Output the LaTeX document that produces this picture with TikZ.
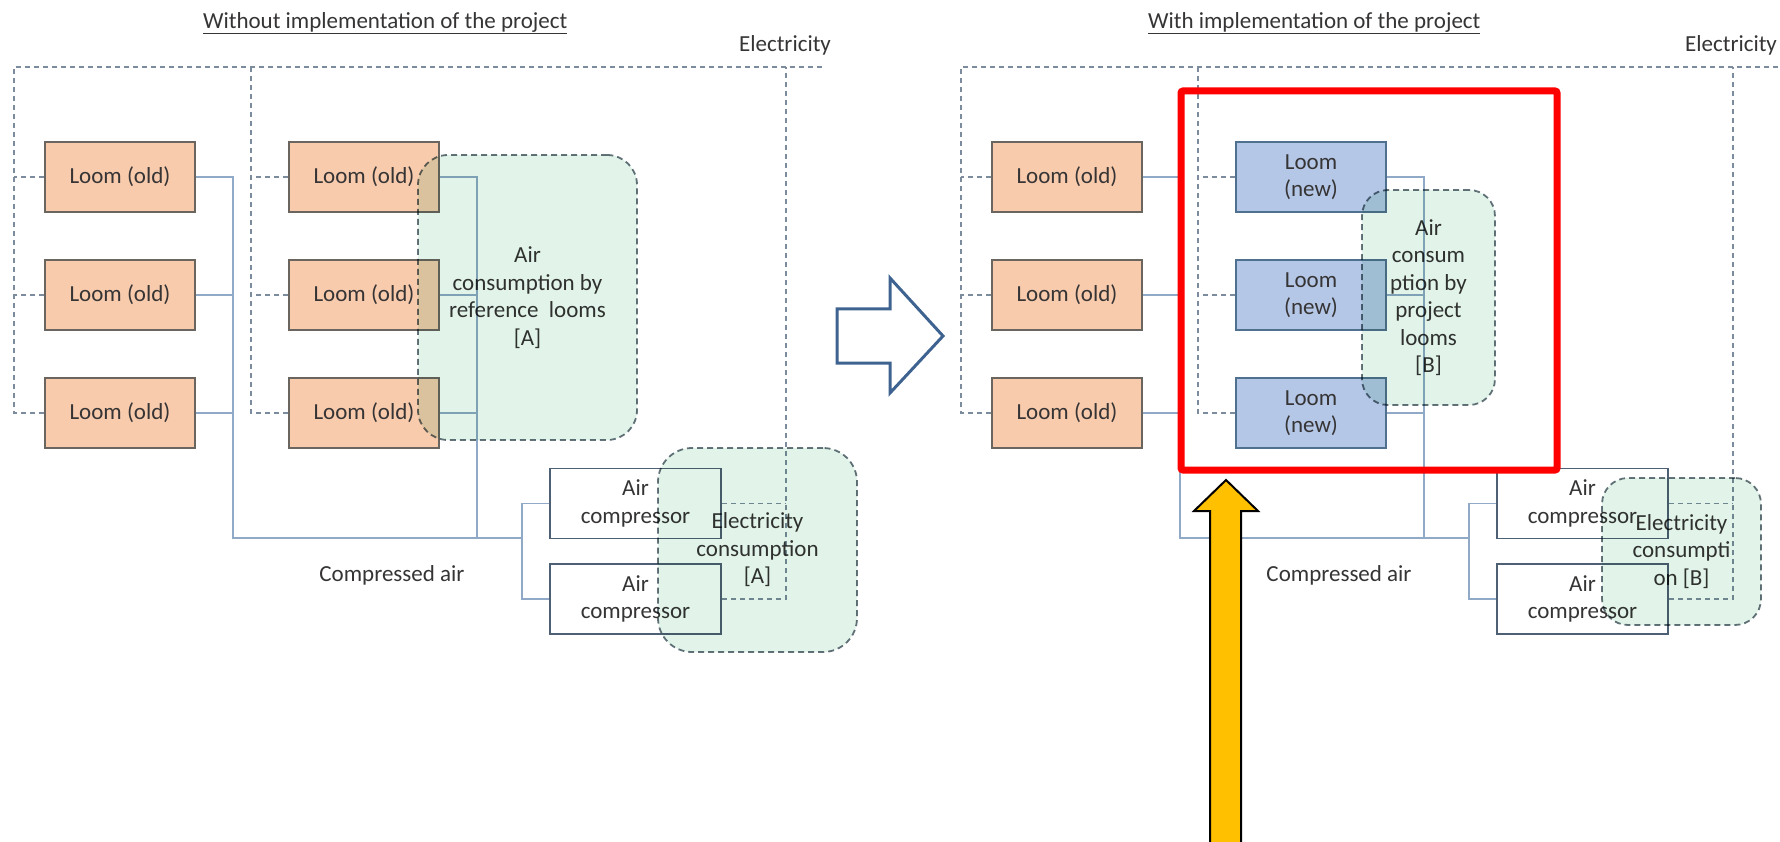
\documentclass[tikz,border=0pt]{standalone}
\usepackage{fontspec}
\setmainfont{Carlito}
\usepackage{xcolor}
\usetikzlibrary{calc}
\definecolor{ink}{HTML}{363434}
\definecolor{oldfill}{HTML}{F8CBAD}
\definecolor{oldedge}{HTML}{6B6560}
\definecolor{newfill}{HTML}{B4C7E7}
\definecolor{newedge}{HTML}{50708F}
\definecolor{compedge}{HTML}{4E6073}
\definecolor{pipe}{HTML}{8FA9C6}
\definecolor{wire}{HTML}{7C8C9C}
\definecolor{blobfill}{HTML}{E2F4EA}
\definecolor{blobedge}{HTML}{66747C}
\definecolor{alert}{HTML}{FF0000}
\definecolor{gold}{HTML}{FFC000}
\definecolor{steel}{HTML}{3F6390}
\newcommand\diagfont{\fontsize{23}{27.5}\selectfont}
\tikzset{
  every picture/.style={line width=1.5pt, text=ink, font=\diagfont},
  oldloom/.style={draw=oldedge, fill=oldfill, minimum width=150pt, minimum height=70pt, inner sep=0pt, align=center},
  newloom/.style={oldloom, draw=newedge, fill=newfill},
  compressor/.style={draw=compedge, fill=white, minimum width=171pt, minimum height=70pt, inner sep=0pt, align=center},
  usage/.style={draw=blobedge, fill=blobfill, line width=1.8pt, dash pattern=on 6pt off 4pt, align=center, inner sep=0pt},
  heading/.style={font=\diagfont, text=ink},
  airline/.style={draw=pipe, line width=1.6pt},
  power/.style={draw=wire, line width=1.4pt, dash pattern=on 5pt off 4pt},
  shiftarrow/.style={draw=steel, fill=white, line width=3pt, line join=miter},
  pointer/.style={draw=black, fill=gold, line width=2pt, line join=miter},
}

\begin{document}
\begin{tikzpicture}[x=1pt, y=-1pt]
\useasboundingbox (0,0) rectangle (1780,842);
% headings
\node[heading, anchor=west] (a-title) at (199,23) {\underline{Without implementation of the project}};
\node[heading, anchor=west] (b-title) at (1144,23) {\underline{With implementation of the project}};
\node[heading] (a-elec) at (785,45) {Electricity};
\node[heading] (b-elec) at (1731,45) {Electricity};
%
% ---- without the project
\node[oldloom] (a-old1) at (120,177) {Loom (old)};
\node[oldloom] (a-old2) at (120,295) {Loom (old)};
\node[oldloom] (a-old3) at (120,413) {Loom (old)};
\node[oldloom] (a-old4) at (364,177) {Loom (old)};
\node[oldloom] (a-old5) at (364,295) {Loom (old)};
\node[oldloom] (a-old6) at (364,413) {Loom (old)};
\node[compressor] (a-comp1) at (635.5,503.5) {Air\\compressor};
\node[compressor] (a-comp2) at (635.5,599) {Air\\compressor};
\node[heading] (a-air) at (392,575) {Compressed air};
\coordinate (a-bus1) at (233,538);
\coordinate (a-bus2) at (477,538);
\coordinate (a-fork) at (522,538);
\coordinate (a-top) at (14,67);
\coordinate (a-tap2) at (251,67);
\coordinate (a-tap3) at (786,67);
\coordinate (a-end) at (823,67);
% air pipes
\draw[airline] (a-old1.east) -| (a-bus1) -- (a-fork);
\draw[airline] (a-old2.east) -- (a-old2.east -| a-bus1);
\draw[airline] (a-old3.east) -- (a-old3.east -| a-bus1);
\draw[airline] (a-old4.east) -| (a-bus2);
\draw[airline] (a-old5.east) -- (a-old5.east -| a-bus2);
\draw[airline] (a-old6.east) -- (a-old6.east -| a-bus2);
\draw[airline] (a-comp1.west) -| (a-fork) |- (a-comp2.west);
% power wires
\draw[power] (a-old3.west) -| (a-top) -- (a-end);
\draw[power] (a-old1.west) -- (a-old1.west -| a-top);
\draw[power] (a-old2.west) -- (a-old2.west -| a-top);
\draw[power] (a-old6.west) -| (a-tap2);
\draw[power] (a-old4.west) -- (a-old4.west -| a-tap2);
\draw[power] (a-old5.west) -- (a-old5.west -| a-tap2);
\draw[power] (a-comp2.east) -| (a-tap3);
\draw[power] (a-comp1.east) -- (a-comp1.east -| a-tap3);
%
% ---- with the project
\node[oldloom] (b-old1) at (1067,177) {Loom (old)};
\node[oldloom] (b-old2) at (1067,295) {Loom (old)};
\node[oldloom] (b-old3) at (1067,413) {Loom (old)};
\node[newloom] (b-new1) at (1311,177) {Loom\\(new)};
\node[newloom] (b-new2) at (1311,295) {Loom\\(new)};
\node[newloom] (b-new3) at (1311,413) {Loom\\(new)};
\node[compressor] (b-comp1) at (1582.5,503.5) {Air\\compressor};
\node[compressor] (b-comp2) at (1582.5,599) {Air\\compressor};
\node[heading] (b-air) at (1339,575) {Compressed air};
\coordinate (b-bus1) at (1180,538);
\coordinate (b-bus2) at (1424,538);
\coordinate (b-fork) at (1469,538);
\coordinate (b-top) at (961,67);
\coordinate (b-tap2) at (1198,67);
\coordinate (b-tap3) at (1733,67);
\coordinate (b-end) at (1780,67);
% air pipes
\draw[airline] (b-old1.east) -| (b-bus1) -- (b-fork);
\draw[airline] (b-old2.east) -- (b-old2.east -| b-bus1);
\draw[airline] (b-old3.east) -- (b-old3.east -| b-bus1);
\draw[airline] (b-new1.east) -| (b-bus2);
\draw[airline] (b-new2.east) -- (b-new2.east -| b-bus2);
\draw[airline] (b-new3.east) -- (b-new3.east -| b-bus2);
\draw[airline] (b-comp1.west) -| (b-fork) |- (b-comp2.west);
% power wires
\draw[power] (b-old3.west) -| (b-top) -- (b-end);
\draw[power] (b-old1.west) -- (b-old1.west -| b-top);
\draw[power] (b-old2.west) -- (b-old2.west -| b-top);
\draw[power] (b-new3.west) -| (b-tap2);
\draw[power] (b-new1.west) -- (b-new1.west -| b-tap2);
\draw[power] (b-new2.west) -- (b-new2.west -| b-tap2);
\draw[power] (b-comp2.east) -| (b-tap3);
\draw[power] (b-comp1.east) -- (b-comp1.east -| b-tap3);
%
% consumption areas
\begin{scope}[blend mode=multiply]
\node[usage, rounded corners=30pt, minimum width=219pt, minimum height=285pt] (a-airuse) at (527.5,297.5) {Air\\consumption by\\reference\ \ looms\\{[A]}};
\node[usage, rounded corners=34pt, minimum width=199pt, minimum height=204pt] (a-eleuse) at (757.5,550) {Electricity\\consumption\\{[A]}};
\node[usage, rounded corners=26pt, minimum width=133pt, minimum height=215pt] (b-airuse) at (1428.5,297.5) {Air\\consum\\ption by\\project\\looms\\{[B]}};
\node[usage, rounded corners=26pt, minimum width=159pt, minimum height=147pt] (b-eleuse) at (1681.5,551.5) {Electricity\\consumpti\\on [B]};
\end{scope}
%
% before -> after
\coordinate (shift) at (837,309);
\draw[shiftarrow] (shift) -- ++(53,0) -- ++(0,-31) -- ++(53,58) -- ++(-53,57) -- ++(0,-30) -- ++(-53,0) -- cycle;
% highlight of the new looms
\node[draw=alert, line width=7pt, rounded corners=2pt, inner sep=0pt, minimum width=376pt, minimum height=379pt] (focus) at (1369,280.5) {};
\coordinate (tip) at (1226,480);
\draw[pointer] (tip) -- ++(32,31) -- ++(-17,0) -- ++(0,345) -- ++(-31,0) -- ++(0,-345) -- ++(-16,0) -- cycle;
\end{tikzpicture}
\end{document}
